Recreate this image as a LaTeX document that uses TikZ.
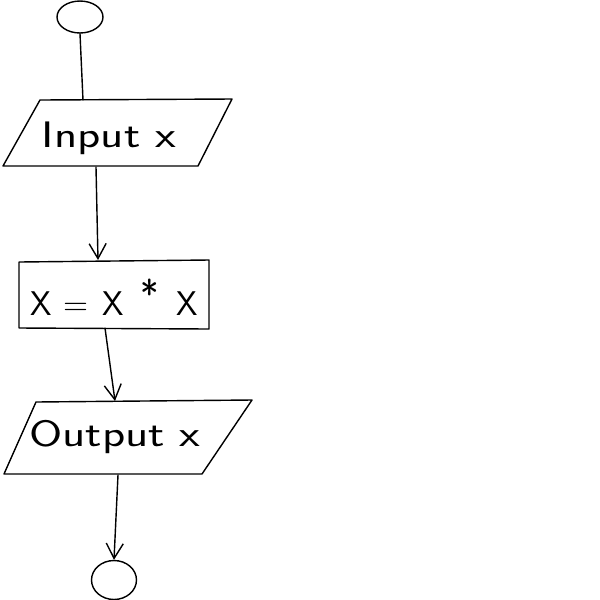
\documentclass[tikz,border=0pt]{standalone}
\usepackage{graphicx}
\usetikzlibrary{arrows.meta,shapes.geometric}
\begin{document}
\begin{tikzpicture}[x=0.02cm,y=-0.02cm,
  line width=0.8pt, line join=round, line cap=round,
  terminal/.style={draw, ellipse, inner sep=0pt},
  label/.style={font=\sffamily\fontsize{21}{24}\selectfont, inner sep=0pt},
  flow/.style={-{Straight Barb[length=0.3cm,width=0.34cm]}}]
\useasboundingbox (0,0) rectangle (600,600);

% start terminal
\node[terminal, minimum width=0.92cm, minimum height=0.64cm] (start) at (80,17) {};

% input box
\coordinate (inTop) at (83,100);
\coordinate (inBot) at (96,167);
\draw (40,100) -- (232,99) -- (198,166) -- (3,166) -- cycle;
\node[label] (input) at (109,138) {\scalebox{1.3}[1]{Input x}};

% process box
\coordinate (prTop) at (98,260);
\coordinate (prBot) at (105,328);
\draw (19,262) -- (209,260) -- (209,329) -- (19,328) -- cycle;
\node[label, font=\sffamily\fontsize{19.5}{22}\selectfont] (proc) at (114,297)
  {X\hspace{0.24cm}=\hspace{0.28cm}X\hspace{0.34cm}\raisebox{4pt}{\scalebox{1.15}{*}}\hspace{0.34cm}X};

% output box
\coordinate (outTop) at (115,401);
\coordinate (outBot) at (118,475);
\draw (36,402) -- (252,400) -- (202,474) -- (4,474) -- cycle;
\node[label] (output) at (115,437) {\scalebox{1.3}[1]{Output x}};

% end terminal
\node[terminal, minimum width=0.9cm, minimum height=0.78cm] (stop) at (114,580) {};

% connectors
\draw (inTop) -- (start.south);
\draw[flow] (inBot) -- (prTop);
\draw[flow] (prBot) -- (outTop);
\draw[flow] (outBot) -- (stop.north);
\end{tikzpicture}
\end{document}
